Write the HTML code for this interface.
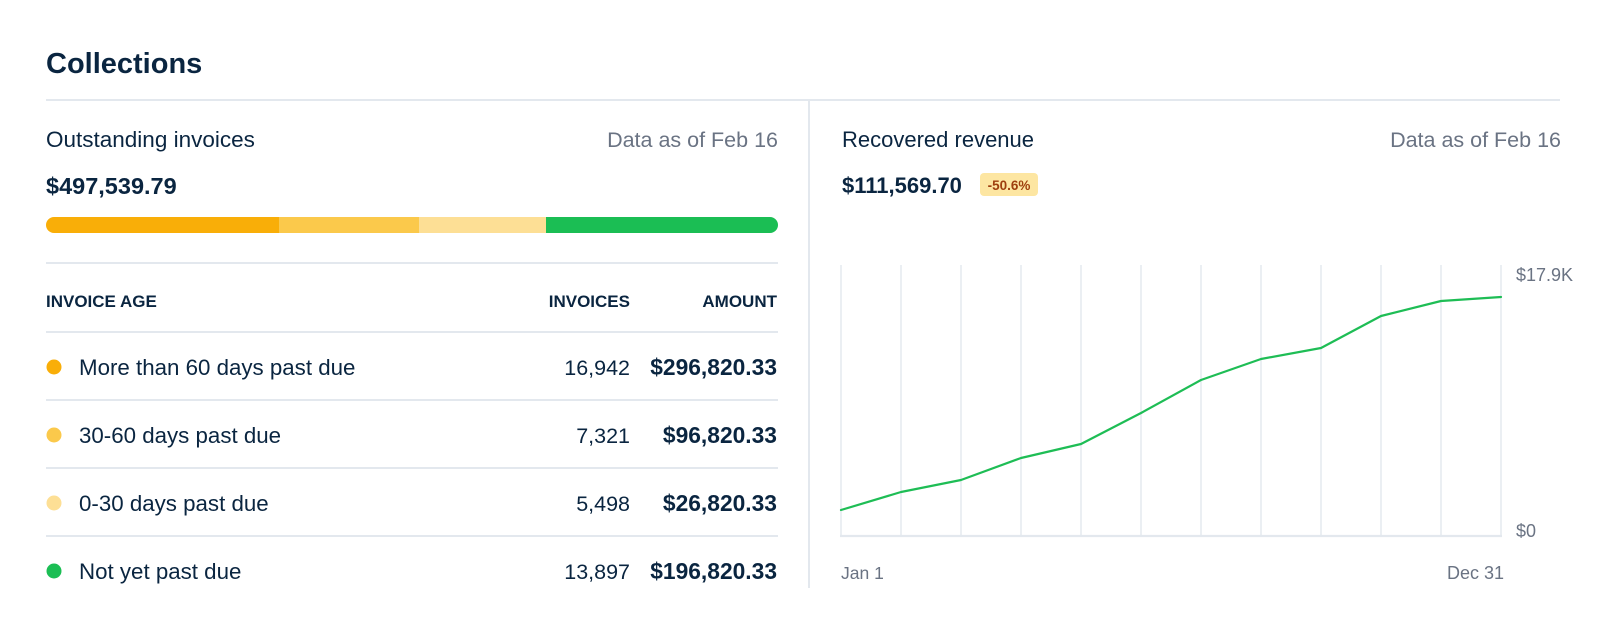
<!DOCTYPE html>
<html>
<head>
<meta charset="utf-8">
<style>
  html,body{margin:0;padding:0;background:#ffffff;}
  body{width:1612px;height:632px;overflow:hidden;}
  svg{display:block;}
  text{font-family:"Liberation Sans", Arial, sans-serif;}
</style>
</head>
<body>
<svg width="1612" height="632" viewBox="0 0 1612 632" xmlns="http://www.w3.org/2000/svg">
  <rect x="0" y="0" width="1612" height="632" fill="#ffffff"/>
  <defs>
    <clipPath id="barclip">
      <rect x="46" y="217" width="732" height="16" rx="8" ry="8"/>
    </clipPath>
  </defs>

  <!-- Title -->
  <text x="46" y="73" font-size="29" font-weight="bold" fill="#0a2540">Collections</text>
  <line x1="46" y1="100" x2="1560" y2="100" stroke="#e3e8ee" stroke-width="2"/>
  <line x1="809" y1="100" x2="809" y2="588" stroke="#e3e8ee" stroke-width="2"/>

  <!-- Left panel -->
  <text x="46" y="147" font-size="22.5" fill="#0a2540">Outstanding invoices</text>
  <text x="778" y="147" font-size="21.5" fill="#6a7383" text-anchor="end">Data as of Feb 16</text>
  <text x="46" y="194" font-size="23.5" font-weight="bold" fill="#0a2540">$497,539.79</text>

  <g clip-path="url(#barclip)">
    <rect x="46" y="217" width="233" height="16" fill="#f9ae08"/>
    <rect x="279" y="217" width="140" height="16" fill="#fbc94b"/>
    <rect x="419" y="217" width="127" height="16" fill="#fddf95"/>
    <rect x="546" y="217" width="232" height="16" fill="#1bbe54"/>
  </g>

  <line x1="46" y1="263" x2="778" y2="263" stroke="#e3e8ee" stroke-width="2"/>

  <text x="46" y="307" font-size="17" font-weight="bold" fill="#0a2540">INVOICE AGE</text>
  <text x="630" y="307" font-size="17" font-weight="bold" fill="#0a2540" text-anchor="end">INVOICES</text>
  <text x="777" y="307" font-size="17" font-weight="bold" fill="#0a2540" text-anchor="end">AMOUNT</text>

  <line x1="46" y1="332" x2="778" y2="332" stroke="#e3e8ee" stroke-width="2"/>

  <!-- Row 1 -->
  <circle cx="54" cy="367" r="7.5" fill="#f9ae08"/>
  <text x="79" y="375" font-size="22.3" fill="#0a2540">More than 60 days past due</text>
  <text x="630" y="375" font-size="21.5" fill="#0a2540" text-anchor="end">16,942</text>
  <text x="777" y="375" font-size="22.8" font-weight="bold" fill="#0a2540" text-anchor="end">$296,820.33</text>
  <line x1="46" y1="400" x2="778" y2="400" stroke="#e3e8ee" stroke-width="2"/>

  <!-- Row 2 -->
  <circle cx="54" cy="435" r="7.5" fill="#fbc94b"/>
  <text x="79" y="443" font-size="22.3" fill="#0a2540">30-60 days past due</text>
  <text x="630" y="443" font-size="21.5" fill="#0a2540" text-anchor="end">7,321</text>
  <text x="777" y="443" font-size="22.8" font-weight="bold" fill="#0a2540" text-anchor="end">$96,820.33</text>
  <line x1="46" y1="468" x2="778" y2="468" stroke="#e3e8ee" stroke-width="2"/>

  <!-- Row 3 -->
  <circle cx="54" cy="503" r="7.5" fill="#fddf95"/>
  <text x="79" y="511" font-size="22.3" fill="#0a2540">0-30 days past due</text>
  <text x="630" y="511" font-size="21.5" fill="#0a2540" text-anchor="end">5,498</text>
  <text x="777" y="511" font-size="22.8" font-weight="bold" fill="#0a2540" text-anchor="end">$26,820.33</text>
  <line x1="46" y1="536" x2="778" y2="536" stroke="#e3e8ee" stroke-width="2"/>

  <!-- Row 4 -->
  <circle cx="54" cy="571" r="7.5" fill="#1bbe54"/>
  <text x="79" y="579" font-size="22.3" fill="#0a2540">Not yet past due</text>
  <text x="630" y="579" font-size="21.5" fill="#0a2540" text-anchor="end">13,897</text>
  <text x="777" y="579" font-size="22.8" font-weight="bold" fill="#0a2540" text-anchor="end">$196,820.33</text>

  <!-- Right panel -->
  <text x="842" y="147" font-size="22" fill="#0a2540">Recovered revenue</text>
  <text x="1561" y="147" font-size="21.5" fill="#6a7383" text-anchor="end">Data as of Feb 16</text>
  <text x="842" y="193" font-size="22" font-weight="bold" fill="#0a2540">$111,569.70</text>
  <rect x="980" y="173" width="58" height="23" rx="4" ry="4" fill="#fde6a2"/>
  <text x="1009" y="190" font-size="13.5" font-weight="bold" fill="#9e3f0e" text-anchor="middle">-50.6%</text>

  <!-- Chart gridlines -->
  <g stroke="#e6ebf0" stroke-width="1.6">
    <line x1="841" y1="265" x2="841" y2="536"/>
    <line x1="901" y1="265" x2="901" y2="536"/>
    <line x1="961" y1="265" x2="961" y2="536"/>
    <line x1="1021" y1="265" x2="1021" y2="536"/>
    <line x1="1081" y1="265" x2="1081" y2="536"/>
    <line x1="1141" y1="265" x2="1141" y2="536"/>
    <line x1="1201" y1="265" x2="1201" y2="536"/>
    <line x1="1261" y1="265" x2="1261" y2="536"/>
    <line x1="1321" y1="265" x2="1321" y2="536"/>
    <line x1="1381" y1="265" x2="1381" y2="536"/>
    <line x1="1441" y1="265" x2="1441" y2="536"/>
    <line x1="1501" y1="265" x2="1501" y2="536"/>
  </g>
  <line x1="840" y1="536" x2="1502" y2="536" stroke="#e3e8ee" stroke-width="2.2"/>

  <polyline fill="none" stroke="#1ebd55" stroke-width="2.2" stroke-linejoin="round" stroke-linecap="round"
    points="841,510 901,492 961,480 1021,458 1081,444 1141,413 1201,380 1261,359 1321,348 1381,316 1441,301 1501,297"/>

  <text x="1516" y="281" font-size="18" fill="#6a7383">$17.9K</text>
  <text x="1516" y="537" font-size="18" fill="#6a7383">$0</text>
  <text x="841" y="579" font-size="17.5" fill="#6a7383">Jan 1</text>
  <text x="1504" y="579" font-size="18" fill="#6a7383" text-anchor="end">Dec 31</text>
</svg>
</body>
</html>
